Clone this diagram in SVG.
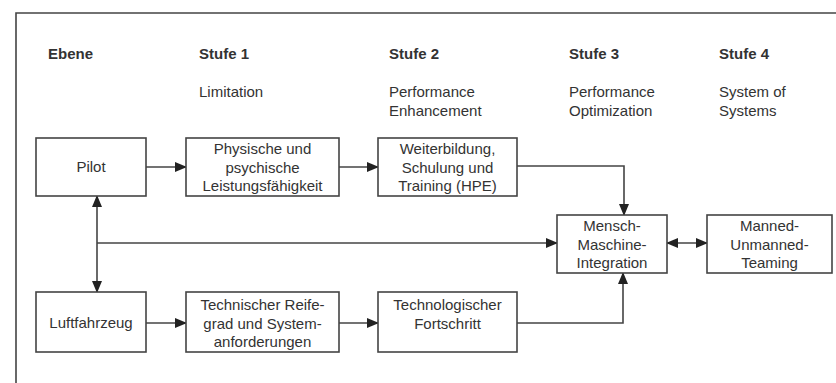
<svg xmlns="http://www.w3.org/2000/svg" width="836" height="383" viewBox="0 0 836 383">
<defs>
<style>
text{font-family:"Liberation Sans",Arial,sans-serif;font-size:15px;fill:#333}
.h{font-weight:bold}
.c{text-anchor:middle}
.box{fill:#fff;stroke:#444;stroke-width:1.6}
.ln{fill:none;stroke:#444;stroke-width:1.6}
</style>
<marker id="a" markerUnits="userSpaceOnUse" markerWidth="12" markerHeight="10" refX="11" refY="5" orient="auto-start-reverse" viewBox="0 0 12 10">
<path d="M0,0 L12,5 L0,10 Z" fill="#222"/>
</marker>
</defs>
<rect x="0" y="0" width="836" height="383" fill="#fff"/>
<path d="M16,383 V13 H836" fill="none" stroke="#444" stroke-width="1.6"/>
<g id="header">
<text class="h" x="48" y="59">Ebene</text>
<text class="h" x="199" y="59">Stufe 1</text>
<text class="h" x="389" y="59">Stufe 2</text>
<text class="h" x="569" y="59">Stufe 3</text>
<text class="h" x="719" y="59">Stufe 4</text>
<text x="199" y="97">Limitation</text>
<text x="389" y="97">Performance</text>
<text x="389" y="116">Enhancement</text>
<text x="569" y="97">Performance</text>
<text x="569" y="116">Optimization</text>
<text x="719" y="97">System of</text>
<text x="719" y="116">Systems</text>
</g>
<g id="connectors">
<line class="ln" x1="146" y1="167" x2="186" y2="167" marker-end="url(#a)"/>
<line class="ln" x1="339" y1="167" x2="378" y2="167" marker-end="url(#a)"/>
<polyline class="ln" points="517,166 624,166 624,215" marker-end="url(#a)"/>
<line class="ln" x1="97" y1="196" x2="97" y2="292" marker-start="url(#a)" marker-end="url(#a)"/>
<line class="ln" x1="97" y1="243" x2="557" y2="243" marker-end="url(#a)"/>
<line class="ln" x1="146" y1="323" x2="186" y2="323" marker-end="url(#a)"/>
<line class="ln" x1="339" y1="323" x2="378" y2="323" marker-end="url(#a)"/>
<polyline class="ln" points="517,323 623,323 623,273" marker-end="url(#a)"/>
<line class="ln" x1="667" y1="243" x2="707" y2="243" marker-start="url(#a)" marker-end="url(#a)"/>
</g>
<g id="pilot">
<rect class="box" x="36" y="138" width="110" height="58"/>
<text class="c" x="91" y="172">Pilot</text>
</g>
<g id="physische">
<rect class="box" x="186" y="138" width="153" height="58"/>
<text class="c" x="262.5" y="154">Physische und</text>
<text class="c" x="262.5" y="172.5">psychische</text>
<text class="c" x="262.5" y="191">Leistungsfähigkeit</text>
</g>
<g id="weiterbildung">
<rect class="box" x="378" y="138" width="139" height="58"/>
<text class="c" x="447.5" y="154">Weiterbildung,</text>
<text class="c" x="447.5" y="172.5">Schulung und</text>
<text class="c" x="447.5" y="191">Training (HPE)</text>
</g>
<g id="luftfahrzeug">
<rect class="box" x="36" y="292" width="110" height="60"/>
<text class="c" x="91" y="328">Luftfahrzeug</text>
</g>
<g id="technischer">
<rect class="box" x="186" y="292" width="153" height="60"/>
<text class="c" x="262.5" y="310">Technischer Reife-</text>
<text class="c" x="262.5" y="328.5">grad und System-</text>
<text class="c" x="262.5" y="347">anforderungen</text>
</g>
<g id="technologischer">
<rect class="box" x="378" y="292" width="139" height="60"/>
<text class="c" x="447.5" y="310">Technologischer</text>
<text class="c" x="447.5" y="328.5">Fortschritt</text>
</g>
<g id="mmi">
<rect class="box" x="557" y="215" width="110" height="58"/>
<text class="c" x="612" y="231">Mensch-</text>
<text class="c" x="612" y="249.5">Maschine-</text>
<text class="c" x="612" y="268">Integration</text>
</g>
<g id="mum">
<rect class="box" x="707" y="215" width="125" height="58"/>
<text class="c" x="769.5" y="231">Manned-</text>
<text class="c" x="769.5" y="249.5">Unmanned-</text>
<text class="c" x="769.5" y="268">Teaming</text>
</g>
</svg>
